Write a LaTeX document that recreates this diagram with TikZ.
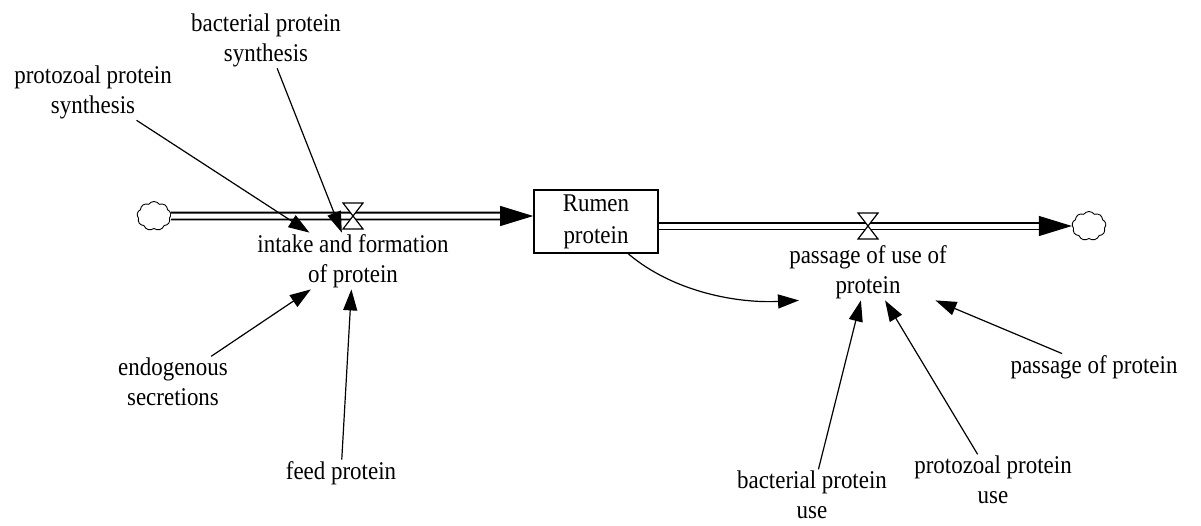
\documentclass[tikz,border=0pt]{standalone}
\usepackage{fontspec}
\setmainfont{Liberation Serif}[FakeStretch=0.9]
\usetikzlibrary{arrows.meta,shapes.symbols,calc}
\begin{document}
\begin{tikzpicture}[x=1pt,y=1pt,
  lbl/.style={font=\fontsize{25.5}{30}\selectfont, align=center, inner sep=1.5pt},
  stockbox/.style={draw, line width=1.6pt, minimum width=124pt, minimum height=63pt,
    align=center, inner sep=0pt, font=\fontsize{25.5}{32}\selectfont},
  infl/.style={line width=1.2pt, -{Triangle[length=21pt,width=14pt]}},
  pipe/.style={draw=black, double=white, double distance=5pt, line width=1.8pt},
  flowtip/.style={line width=1pt, -{Triangle[length=33pt,width=20pt]}},
  valvesym/.style={draw, fill=white, line width=1.2pt, line join=miter},
  sink/.style={cloud, cloud puffs=9, cloud puff arc=110, draw, line width=0.9pt,
    minimum width=34pt, minimum height=29pt, inner sep=0pt, aspect=1.2}]
\useasboundingbox (0,0) rectangle (1201,-525);

% stock
\node[stockbox] (rumen) at (596,-221.5) {Rumen\\protein};

% sources and sinks
\node[sink] (c1) at (154,-216) {};
\node[sink] (c2) at (1089,-226) {};

% inflow
\coordinate (v1) at (353,-216);
\coordinate (a1) at (502,-216);
\draw[pipe] (c1.east) -- (a1);
\draw[flowtip] (a1) -- (a1 -| rumen.west);
\draw[valvesym] ($(v1)+(-10,13)$) -- ++(20,0) -- ++(-20,-26) -- ++(20,0) -- cycle;
\node[lbl] (ifp) at (353,-261) {intake and formation\\of protein};

% outflow
\coordinate (v2) at (868,-226);
\coordinate (a2) at (1039,-226);
\draw[pipe] (v2 -| rumen.east) -- (a2);
\draw[flowtip] (a2) -- (c2.west);
\draw[valvesym] ($(v2)+(-10,13)$) -- ++(20,0) -- ++(-20,-26) -- ++(20,0) -- cycle;
\node[lbl] (pou) at (868,-272) {passage of use of\\protein};

% auxiliaries
\node[lbl] (bps) at (266,-40) {bacterial protein\\synthesis};
\node[lbl] (pps) at (93,-92) {protozoal protein\\synthesis};
\node[lbl] (endo) at (173,-382) {endogenous\\secretions};
\node[lbl] (feed) at (341,-473) {feed protein};
\node[lbl] (pop) at (1094,-367) {passage of protein};
\node[lbl] (bpu) at (812,-495) {bacterial protein\\use};
\node[lbl] (ppu) at (993,-480) {protozoal protein\\use};

% information links
\draw[infl] (pps) -- (ifp);
\draw[infl] (bps) -- (ifp);
\draw[infl] (endo) -- (ifp);
\draw[infl] (feed) -- (ifp);
\draw[infl] (rumen.-45) .. controls ($(rumen.-45)+(46,-39)$) and ($(pou.south)+(-129,-3)$) .. ($(pou.south)+(-69,0)$);
\draw[infl] (bpu) -- (pou);
\draw[infl] (ppu) -- (pou);
\draw[infl] (pop) -- (pou);
\end{tikzpicture}
\end{document}
